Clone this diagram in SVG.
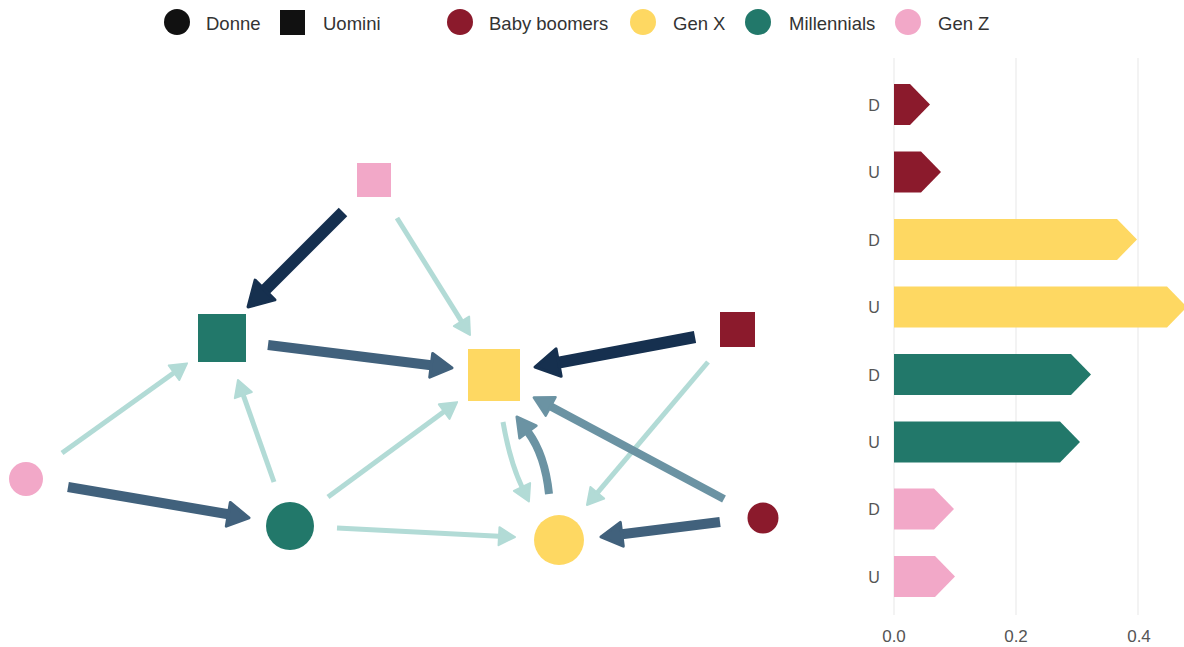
<svg xmlns="http://www.w3.org/2000/svg" width="1184" height="647" viewBox="0 0 1184 647">
<style>
  text { font-family: "Liberation Sans", Arial, sans-serif; }
  .leg { font-size: 18.5px; fill: #333333; }
  .tick { font-size: 16px; fill: #555555; text-anchor: middle; }
  .axis { font-size: 17px; fill: #555555; text-anchor: middle; }
  .grid { stroke: #ebebeb; stroke-width: 1.2; }
  .bb { fill: #8b1a2c; }
  .gx { fill: #fed862; }
  .ml { fill: #22786a; }
  .gz { fill: #f2a8c8; }
  .e { fill: none; stroke-linecap: butt; }
  .navy { stroke: #16304f; stroke-width: 12; marker-end: url(#mNavy); }
  .slate { stroke: #41617c; stroke-width: 10; marker-end: url(#mSlate); }
  .med { stroke: #6b93a3; stroke-width: 8; marker-end: url(#mMed); }
  .teal { stroke: #b2dbd6; stroke-width: 5; marker-end: url(#mTeal); }
</style>
<defs>
  <marker id="mNavy" markerUnits="userSpaceOnUse" orient="auto" refX="0" refY="0" markerWidth="40" markerHeight="40" viewBox="-4 -20 32 40" overflow="visible">
    <path d="M0,-14 L24,0 L0,14 Z" fill="#16304f" stroke="#16304f" stroke-width="3" stroke-linejoin="round"/>
  </marker>
  <marker id="mSlate" markerUnits="userSpaceOnUse" orient="auto" refX="0" refY="0" markerWidth="40" markerHeight="40" viewBox="-4 -20 32 40" overflow="visible">
    <path d="M0,-12 L21,0 L0,12 Z" fill="#41617c" stroke="#41617c" stroke-width="3" stroke-linejoin="round"/>
  </marker>
  <marker id="mMed" markerUnits="userSpaceOnUse" orient="auto" refX="0" refY="0" markerWidth="40" markerHeight="40" viewBox="-4 -20 32 40" overflow="visible">
    <path d="M0,-10.5 L19,0 L0,10.5 Z" fill="#6b93a3" stroke="#6b93a3" stroke-width="2.5" stroke-linejoin="round"/>
  </marker>
  <marker id="mTeal" markerUnits="userSpaceOnUse" orient="auto" refX="0" refY="0" markerWidth="40" markerHeight="40" viewBox="-4 -20 32 40" overflow="visible">
    <path d="M0,-9 L16,0 L0,9 Z" fill="#b2dbd6" stroke="#b2dbd6" stroke-width="2" stroke-linejoin="round"/>
  </marker>
</defs>
<rect width="1184" height="647" fill="#ffffff"/>

<g id="legend">
  <circle cx="177" cy="22" r="13" fill="#111111"/>
  <text class="leg" x="206" y="30">Donne</text>
  <rect x="280" y="10" width="25" height="25" fill="#111111"/>
  <text class="leg" x="323" y="30">Uomini</text>
  <circle cx="460" cy="22" r="13" class="bb"/>
  <text class="leg" x="489" y="30">Baby boomers</text>
  <circle cx="643" cy="22" r="13" class="gx"/>
  <text class="leg" x="673" y="30">Gen X</text>
  <circle cx="758" cy="22" r="13" class="ml"/>
  <text class="leg" x="789" y="30">Millennials</text>
  <circle cx="908" cy="22" r="13" class="gz"/>
  <text class="leg" x="938" y="30">Gen Z</text>
</g>

<g id="connectors">
  <path class="e navy" d="M343,212 L265,290"/>
  <path class="e teal" d="M397,218 L461.5,321.4"/>
  <path class="e slate" d="M268,345 L431.2,365.3"/>
  <path class="e navy" d="M695,337 L558.6,362.6"/>
  <path class="e teal" d="M708,362 L597.3,492.8"/>
  <path class="e med" d="M724,499 L550.6,406.4"/>
  <path class="e slate" d="M720,522 L621.8,534.3"/>
  <path class="e teal" d="M503,422 Q510,462 522,487"/>
  <path class="e med" d="M549,494 Q545,455 528,432"/>
  <path class="e teal" d="M337,528 L499,536.2"/>
  <path class="e teal" d="M328,497 L444.2,411.6"/>
  <path class="e teal" d="M274,482 L243.3,395.1"/>
  <path class="e teal" d="M62,453 L174,372.7"/>
  <path class="e slate" d="M68,487 L228.3,514.3"/>
</g>

<g id="node-genz-u"><rect x="357" y="163" width="34" height="34" class="gz"/></g>
<g id="node-mill-u"><rect x="198" y="314" width="48" height="48" class="ml"/></g>
<g id="node-genx-u"><rect x="468" y="349" width="52" height="52" class="gx"/></g>
<g id="node-bb-u"><rect x="720" y="312" width="35" height="35" class="bb"/></g>
<g id="node-bb-d"><circle cx="763" cy="518" r="15.5" class="bb"/></g>
<g id="node-genx-d"><circle cx="559" cy="540" r="25" class="gx"/></g>
<g id="node-mill-d"><circle cx="290" cy="526" r="24" class="ml"/></g>
<g id="node-genz-d"><circle cx="26" cy="479" r="17" class="gz"/></g>

<g id="bar-chart">
  <line class="grid" x1="894" y1="58" x2="894" y2="615"/>
  <line class="grid" x1="1016" y1="58" x2="1016" y2="615"/>
  <line class="grid" x1="1138" y1="58" x2="1138" y2="615"/>

  <polygon class="bb" points="894,84 910,84 930,104.5 910,125 894,125"/>
  <polygon class="bb" points="894,151.5 921,151.5 941,172 921,192.5 894,192.5"/>
  <polygon class="gx" points="894,219 1117,219 1137,239.5 1117,260 894,260"/>
  <polygon class="gx" points="894,286.5 1167,286.5 1187,307 1167,327.5 894,327.5"/>
  <polygon class="ml" points="894,354 1071,354 1091,374.5 1071,395 894,395"/>
  <polygon class="ml" points="894,421.5 1060,421.5 1080,442 1060,462.5 894,462.5"/>
  <polygon class="gz" points="894,488.5 934,488.5 954,509 934,529.5 894,529.5"/>
  <polygon class="gz" points="894,556 935,556 955,576.5 935,597 894,597"/>

  <text class="tick" x="874" y="110.5">D</text>
  <text class="tick" x="874" y="178">U</text>
  <text class="tick" x="874" y="245.5">D</text>
  <text class="tick" x="874" y="313">U</text>
  <text class="tick" x="874" y="380.5">D</text>
  <text class="tick" x="874" y="448">U</text>
  <text class="tick" x="874" y="515">D</text>
  <text class="tick" x="874" y="582.5">U</text>

  <text class="axis" x="894" y="642">0.0</text>
  <text class="axis" x="1016" y="642">0.2</text>
  <text class="axis" x="1139" y="642">0.4</text>
</g>
</svg>
